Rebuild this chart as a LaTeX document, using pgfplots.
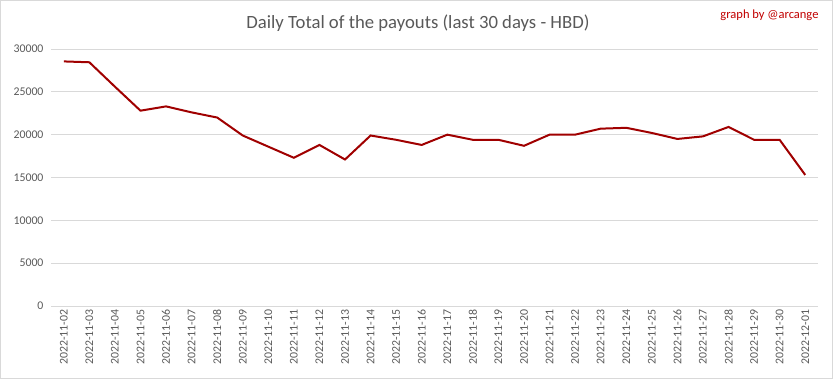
\documentclass[border=0pt]{standalone}
\usepackage{pgfplots}
\pgfplotsset{compat=1.18}
\usepackage{fontspec}
\setmainfont{Carlito}
\definecolor{linered}{RGB}{160,0,0}
\definecolor{txtgray}{RGB}{89,89,89}
\definecolor{gridgray}{RGB}{217,217,217}
\definecolor{credred}{RGB}{192,0,0}
\begin{document}
\begin{tikzpicture}[x=1pt,y=1pt]
\useasboundingbox (0,0) rectangle (833,379);
\draw[gridgray] (0.5,0.5) rectangle (832.5,378.5);
\node[txtgray,font=\fontsize{18.7}{22}\selectfont] at (418,356) {Daily Total of the payouts (last 30 days - HBD)};
\node[credred,font=\fontsize{12.5}{15}\selectfont,anchor=east] at (822,364) {graph by @arcange};
\begin{axis}[
  at={(51pt,73pt)}, anchor=south west,
  scale only axis, width=767pt, height=257pt,
  xmin=-0.5, xmax=29.5, ymin=0, ymax=30000,
  ytick={0,5000,...,30000},
  xtick={0,...,29},
  xticklabels={2022-11-02,2022-11-03,2022-11-04,2022-11-05,2022-11-06,2022-11-07,2022-11-08,2022-11-09,2022-11-10,2022-11-11,2022-11-12,2022-11-13,2022-11-14,2022-11-15,2022-11-16,2022-11-17,2022-11-18,2022-11-19,2022-11-20,2022-11-21,2022-11-22,2022-11-23,2022-11-24,2022-11-25,2022-11-26,2022-11-27,2022-11-28,2022-11-29,2022-11-30,2022-12-01},
  x tick label style={rotate=90, anchor=east, font=\fontsize{11.8}{13}\selectfont, text=txtgray},
  y tick label style={font=\fontsize{11.8}{13}\selectfont, text=txtgray, xshift=-4pt},
  /pgf/number format/assume math mode=true,
  scaled y ticks=false,
  yticklabel style={/pgf/number format/1000 sep={}},
  ymajorgrids, major grid style={gridgray, line width=0.8pt},
  axis line style={draw=none},
  major tick length=0pt,
  clip=false,
]
\addplot[linered, line width=2pt, mark=none] coordinates {
(0,28550) (1,28450) (2,25600) (3,22800) (4,23300) (5,22600) (6,22000) (7,19900) (8,18600) (9,17300)
(10,18800) (11,17100) (12,19900) (13,19400) (14,18800) (15,20000) (16,19400) (17,19400) (18,18700) (19,20000)
(20,20000) (21,20700) (22,20800) (23,20200) (24,19500) (25,19800) (26,20900) (27,19400) (28,19400) (29,15300)
};
\end{axis}
\end{tikzpicture}
\end{document}
